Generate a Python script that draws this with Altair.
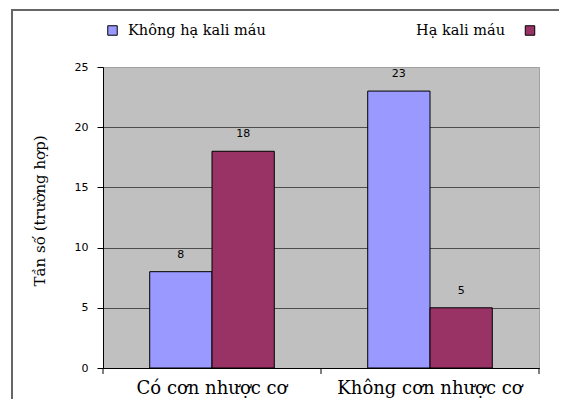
import altair as alt
import pandas as pd

categories = ["Có cơn nhược cơ", "Không cơn nhược cơ"]
series = ["Không hạ kali máu", "Hạ kali máu"]
values_khong_ha = [8, 23]
values_ha = [18, 5]
colors = ["#9999FF", "#993366"]
y_ticks = [0, 5, 10, 15, 20, 25]
y_title = "Tần số (trường hợp)"

rows = []
for i, c in enumerate(categories):
    rows.append({"cat": c, "series": series[0], "value": values_khong_ha[i]})
    rows.append({"cat": c, "series": series[1], "value": values_ha[i]})
df = pd.DataFrame(rows)
cat_df = pd.DataFrame({"cat": categories})
one = pd.DataFrame({"a": [0]})
leg1 = pd.DataFrame({"series": [series[0]]})
leg2 = pd.DataFrame({"series": [series[1]]})

W, H = 436, 301
SERIF = "DejaVu Serif"
SANS = "DejaVu Sans"

x_enc = alt.X(
    "cat:N", sort=categories,
    scale=alt.Scale(paddingInner=0, paddingOuter=0),
    axis=alt.Axis(title=None, labelAngle=0, ticks=False, domainColor="black",
                  labelFont=SERIF, labelFontSize=18, labelPadding=11, labelLimit=400,
                  labelColor="black"),
)
xo_enc = alt.XOffset("series:N", sort=series,
                     scale=alt.Scale(paddingOuter=0.75, paddingInner=0))
y_scale = alt.Scale(domain=[0, 25], nice=False, zero=True)
y_enc = alt.Y(
    "value:Q",
    scale=y_scale,
    axis=alt.Axis(values=y_ticks, title=y_title, titleFont=SERIF, titleFontSize=15,
                  titleFontWeight="normal", titleColor="black",
                  titleX=-64, titleY=H / 2 - 7, titleBaseline="middle", titleAngle=270,
                  labelFont=SANS, labelFontSize=11, labelColor="black", labelPadding=9,
                  tickSize=6, tickColor="black", domainColor="black",
                  grid=True,
                  gridColor={"condition": {"test": "datum.value >= 25", "value": "#a0a0a0"},
                             "value": "#4d4d4d"}),
)
color_enc = alt.Color("series:N", sort=series,
                      scale=alt.Scale(domain=series, range=colors), legend=None)

# outer chart frame (top and left edges; right and bottom fall outside the page)
frame_top = alt.Chart(one).mark_square(shape="M-1,-0.5L1,-0.5L1,0.5L-1,0.5Z", size=1,
                                       color="#666666", opacity=1, filled=True).encode(
    x=alt.value(W / 2), y=alt.value(-57)
)
frame_rect = alt.Chart(one).mark_rect(color="#666666").encode(
    x=alt.value(-92), x2=alt.value(W + 30), y=alt.value(-58), y2=alt.value(-56)
)
frame_v = alt.Chart(one).mark_rect(color="#666666").encode(
    x=alt.value(-92), x2=alt.value(-90), y=alt.value(-58), y2=alt.value(H + 40)
)
bars = alt.Chart(df).mark_bar(stroke="black", strokeWidth=1).encode(
    x=x_enc, xOffset=xo_enc, y=y_enc, color=color_enc
)
labels = alt.Chart(df).mark_text(baseline="bottom", dy=-12, font=SANS, fontSize=11,
                                 color="black").encode(
    x=alt.X("cat:N", sort=categories), xOffset=xo_enc,
    y=alt.Y("value:Q", scale=y_scale), text="value:Q"
)
xticks = alt.Chart(cat_df).mark_rule(color="black").encode(
    x=alt.X("cat:N", sort=categories, bandPosition=0),
    y=alt.value(H), y2=alt.value(H + 6),
)
xtick_end = alt.Chart(one).mark_rule(color="black").encode(
    x=alt.value(W), y=alt.value(H), y2=alt.value(H + 6)
)
sq1 = alt.Chart(leg1).mark_square(size=90, stroke="black", strokeWidth=1, opacity=1).encode(
    x=alt.value(9.5), y=alt.value(-36.5), color=color_enc
)
tx1 = alt.Chart(leg1).mark_text(align="left", baseline="middle", font=SERIF, fontSize=14.5,
                                color="black").encode(
    x=alt.value(25), y=alt.value(-36.5), text="series:N"
)
sq2 = alt.Chart(leg2).mark_square(size=90, stroke="black", strokeWidth=1, opacity=1).encode(
    x=alt.value(427), y=alt.value(-36.5), color=color_enc
)
tx2 = alt.Chart(leg2).mark_text(align="right", baseline="middle", font=SERIF, fontSize=14.5,
                                color="black").encode(
    x=alt.value(402), y=alt.value(-36.5), text="series:N"
)

chart = alt.layer(
    frame_rect, frame_v, bars, labels, xticks, xtick_end, sq1, tx1, sq2, tx2
).properties(
    width=W, height=H,
    autosize=alt.AutoSizeParams(type="none"),
    padding={"left": 95, "top": 59, "right": 20, "bottom": 31},
    background="white",
).configure_view(
    fill="#C0C0C0", stroke="#a0a0a0", strokeWidth=1
)

chart.save("out.html", embed_options={"renderer": "svg", "actions": False})
